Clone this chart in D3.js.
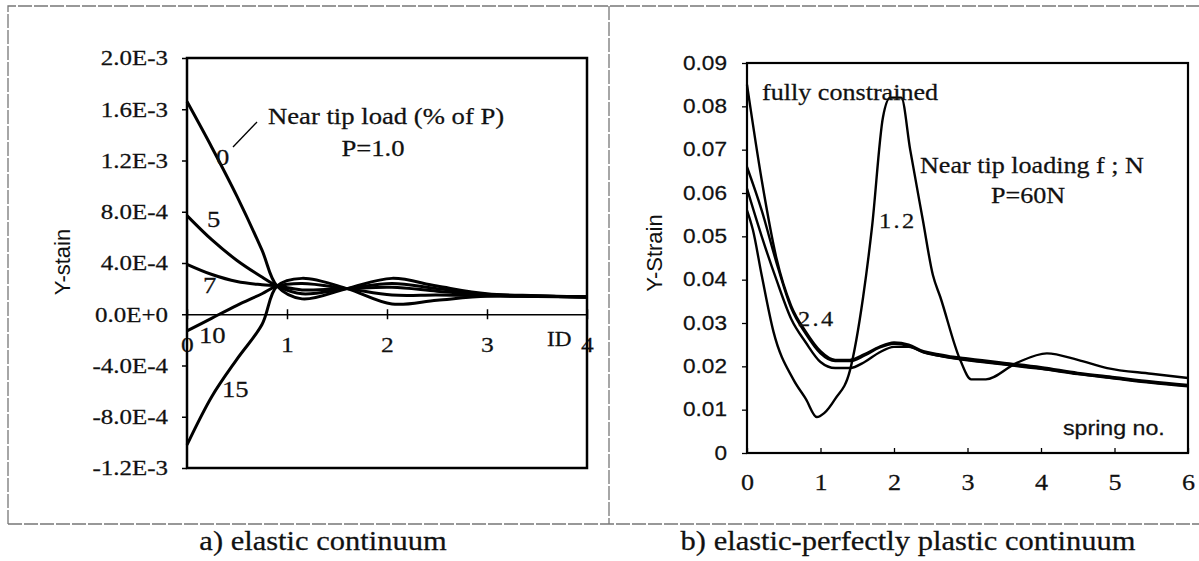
<!DOCTYPE html>
<html>
  <head>
    <meta charset="utf-8">
    <script type="text/javascript" src="https://cdn.jsdelivr.net/npm/d3@7/dist/d3.min.js"></script>
    <style>
      body { margin: 0; background: #fff; }
    </style>
  </head>
  <body>
    <script type="text/javascript">
      // ---- data ----
      // a) elastic continuum, x = ID, y = strain
      var idA = [0, 0.25, 0.5, 0.75, 0.9, 1.15, 1.6, 2.05, 2.5, 3, 3.5, 4];
      var load0  = [16.6e-4, 13.0e-4, 9.2e-4, 5.0e-4, 2.2e-4, 1.2e-4, 2.0e-4, 2.8e-4, 2.2e-4, 1.6e-4, 1.45e-4, 1.35e-4];
      var load5  = [7.7e-4, 5.8e-4, 4.2e-4, 2.9e-4, 2.2e-4, 1.6e-4, 2.0e-4, 2.4e-4, 2.0e-4, 1.55e-4, 1.42e-4, 1.35e-4];
      var load7  = [3.9e-4, 3.1e-4, 2.55e-4, 2.3e-4, 2.2e-4, 1.9e-4, 2.0e-4, 2.1e-4, 1.8e-4, 1.5e-4, 1.4e-4, 1.35e-4];
      var load10 = [-1.3e-4, -0.3e-4, 0.7e-4, 1.6e-4, 2.2e-4, 2.4e-4, 2.0e-4, 1.5e-4, 1.5e-4, 1.45e-4, 1.4e-4, 1.35e-4];
      var load15 = [-10.2e-4, -6.4e-4, -3.5e-4, -0.8e-4, 2.2e-4, 2.8e-4, 2.0e-4, 0.8e-4, 1.1e-4, 1.4e-4, 1.38e-4, 1.35e-4];
      var namesA = ["0", "5", "7", "10", "15"];
      var yTicksA = [2.0e-3, 1.6e-3, 1.2e-3, 8.0e-4, 4.0e-4, 0, -4.0e-4, -8.0e-4, -1.2e-3];
      var yLabelsA = ["2.0E-3", "1.6E-3", "1.2E-3", "8.0E-4", "4.0E-4", "0.0E+0", "-4.0E-4", "-8.0E-4", "-1.2E-3"];
      var xTicksA = [0, 1, 2, 3, 4];

      // b) elastic-perfectly plastic continuum, x = spring no., y = strain
      var springB = [0, 0.2, 0.4, 0.6, 0.8, 1.0, 1.2, 1.4, 1.6, 1.8, 2.0, 2.2, 2.4, 2.6, 2.8, 3.0, 3.2, 3.5, 4.0, 4.5, 5.0, 5.5, 6.0];
      var fullyB = [0.085, 0.063, 0.045, 0.034, 0.028, 0.0235, 0.0215, 0.0215, 0.0228, 0.0245, 0.0255, 0.025, 0.0235, 0.0228, 0.0222, 0.0218, 0.0214, 0.0208, 0.0198, 0.0185, 0.0175, 0.0165, 0.0157];
      var loadB2 = [0.066, 0.056, 0.044, 0.0335, 0.0275, 0.023, 0.0212, 0.0212, 0.0225, 0.0243, 0.0252, 0.0247, 0.0232, 0.0225, 0.0219, 0.0215, 0.0211, 0.0205, 0.0195, 0.0183, 0.0173, 0.0163, 0.0155];
      var load24 = [0.061, 0.050, 0.040, 0.031, 0.0255, 0.021, 0.0196, 0.0196, 0.021, 0.0232, 0.0245, 0.0245, 0.0233, 0.0225, 0.0219, 0.0214, 0.021, 0.0204, 0.0194, 0.0182, 0.0172, 0.0162, 0.0154];
      var spring12 = [0, 0.08, 0.2, 0.36, 0.63, 0.8, 0.95, 1.05, 1.2, 1.4, 1.58, 1.7, 1.85, 1.95, 2.1, 2.22, 2.39, 2.53, 2.63, 2.9, 3.05, 3.25, 3.67, 4.08, 4.5, 4.9, 5.5, 6.0];
      var load12 = [0.056, 0.0515, 0.041, 0.028, 0.017, 0.0125, 0.0083, 0.0092, 0.0125, 0.019, 0.036, 0.052, 0.0775, 0.082, 0.082, 0.070, 0.054, 0.041, 0.036, 0.0215, 0.017, 0.017, 0.0208, 0.023, 0.0215, 0.0196, 0.0183, 0.0173];
      var yTicksB = [0, 0.01, 0.02, 0.03, 0.04, 0.05, 0.06, 0.07, 0.08, 0.09];
      var xTicksB = [0, 1, 2, 3, 4, 5, 6];

      // ---- setup ----
      var width = 1199;
      var height = 561;
      var SX = 1.16;   // the scan is stretched sideways, stretch text to match
      var serif = "'Liberation Serif', 'Times New Roman', serif";
      var sans = "'Liberation Sans', Arial, sans-serif";

      var svg = d3.select("body")
                  .append("svg")
                  .attr("width", width)
                  .attr("height", height);

      function label(x, y, s, size, fam, anchor, sx) {
        return svg.append("text")
                  .attr("transform", "translate(" + x + "," + y + ") scale(" + (sx || SX) + ",1)")
                  .attr("font-size", size)
                  .attr("font-family", fam)
                  .attr("text-anchor", anchor || "start")
                  .attr("fill", "#111")
                  .attr("stroke", "#111")
                  .attr("stroke-width", 0.25)
                  .text(s);
      }

      function stretchTicks(g) {
        g.selectAll("text")
         .attr("x", function() { return (+d3.select(this).attr("x") || 0) / SX; })
         .attr("transform", "scale(" + SX + ",1)")
         .attr("fill", "#111")
         .attr("stroke", "#111")
         .attr("stroke-width", 0.25);
      }

      // scanned page frame
      var frame = svg.append("g")
                     .attr("stroke", "#777")
                     .attr("stroke-width", 1.3)
                     .attr("stroke-dasharray", "14,2")
                     .attr("fill", "none");
      frame.append("path").attr("d", "M8,524 L8,6 L1199,6");
      frame.append("path").attr("d", "M8,524 L1199,524");
      frame.append("path").attr("d", "M609,6 L609,524");

      // ---- panel a ----
      var xA = d3.scaleLinear().domain([0, 4]).range([187, 587]);
      var yA = d3.scaleLinear().domain([-1.2e-3, 2.0e-3]).range([468, 58]);

      var lineA = d3.line()
                    .x(function(d, i) { return xA(idA[i]); })
                    .y(function(d) { return yA(d); })
                    .curve(d3.curveCatmullRom.alpha(0.5));

      [load0, load5, load7, load10, load15].forEach(function(s) {
        svg.append("path")
           .datum(s)
           .attr("d", lineA)
           .attr("fill", "none")
           .attr("stroke", "#000")
           .attr("stroke-width", 3);
      });

      // y axis
      var gyA = svg.append("g")
                   .attr("transform", "translate(" + xA(0) + ",0)")
                   .call(d3.axisLeft(yA)
                           .tickValues(yTicksA)
                           .tickFormat(function(d, i) { return yLabelsA[i]; })
                           .tickSize(5)
                           .tickPadding(14)
                           .tickSizeOuter(0))
                   .attr("font-family", serif)
                   .attr("font-size", 21.5);
      gyA.select(".domain").remove();
      gyA.selectAll("line").attr("stroke-width", 1.5);
      stretchTicks(gyA);

      // x axis through zero
      var gxA = svg.append("g")
                   .attr("transform", "translate(0," + yA(0) + ")")
                   .call(d3.axisBottom(xA)
                           .tickValues(xTicksA)
                           .tickFormat(d3.format("d"))
                           .tickSize(5)
                           .tickPadding(17)
                           .tickSizeOuter(0))
                   .attr("font-family", serif)
                   .attr("font-size", 22);
      gxA.select(".domain").attr("stroke-width", 1.5);
      gxA.selectAll("line").attr("y1", -5).attr("y2", 5).attr("stroke-width", 1.5);
      stretchTicks(gxA);

      svg.append("rect")
         .attr("x", xA(0)).attr("y", yA(2.0e-3))
         .attr("width", xA(4) - xA(0)).attr("height", yA(-1.2e-3) - yA(2.0e-3))
         .attr("fill", "none").attr("stroke", "#000").attr("stroke-width", 2.5);

      // annotations
      label(547, 346, "ID", 20, serif);
      svg.append("line")
         .attr("x1", 233).attr("y1", 147).attr("x2", 257).attr("y2", 122)
         .attr("stroke", "#000").attr("stroke-width", 1.3);
      label(268, 124, "Near tip load (% of P)", 23, serif);
      label(373, 156, "P=1.0", 23, serif, "middle");
      label(216, 165, namesA[0], 23, serif);
      label(207, 227, namesA[1], 23, serif);
      label(203, 293, namesA[2], 23, serif);
      label(199, 343, namesA[3], 23, serif);
      label(222, 397, namesA[4], 23, serif);

      svg.append("text")
         .attr("transform", "translate(70,262) rotate(-90)")
         .attr("text-anchor", "middle")
         .attr("font-family", sans)
         .attr("font-size", 22)
         .attr("fill", "#111")
         .text("Y-stain");

      label(323, 550, "a) elastic continuum", 27, serif, "middle", 1.13);

      // ---- panel b ----
      var xB = d3.scaleLinear().domain([0, 6]).range([747, 1188]);
      var yB = d3.scaleLinear().domain([0, 0.09]).range([453, 63]);

      var lineB = d3.line()
                    .x(function(d, i) { return xB(springB[i]); })
                    .y(function(d) { return yB(d); })
                    .curve(d3.curveMonotoneX);
      var line12 = d3.line()
                     .x(function(d, i) { return xB(spring12[i]); })
                     .y(function(d) { return yB(d); })
                     .curve(d3.curveMonotoneX);

      [fullyB, loadB2, load24].forEach(function(s) {
        svg.append("path")
           .datum(s)
           .attr("d", lineB)
           .attr("fill", "none")
           .attr("stroke", "#000")
           .attr("stroke-width", 2.4);
      });
      svg.append("path")
         .datum(load12)
         .attr("d", line12)
         .attr("fill", "none")
         .attr("stroke", "#000")
         .attr("stroke-width", 2.4);

      var gyB = svg.append("g")
                   .attr("transform", "translate(" + xB(0) + ",0)")
                   .call(d3.axisLeft(yB)
                           .tickValues(yTicksB)
                           .tickFormat(function(d) { return d === 0 ? "0" : d3.format(".2f")(d); })
                           .tickSize(5)
                           .tickPadding(15)
                           .tickSizeOuter(0))
                   .attr("font-family", sans)
                   .attr("font-size", 19.5);
      gyB.select(".domain").remove();
      gyB.selectAll("line").attr("stroke-width", 1.3);
      stretchTicks(gyB);

      var gxB = svg.append("g")
                   .attr("transform", "translate(0," + yB(0) + ")")
                   .call(d3.axisBottom(xB)
                           .tickValues(xTicksB)
                           .tickFormat(d3.format("d"))
                           .tickSizeInner(-5)
                           .tickPadding(21)
                           .tickSizeOuter(0))
                   .attr("font-family", serif)
                   .attr("font-size", 22.5);
      gxB.select(".domain").remove();
      gxB.selectAll("line").attr("stroke-width", 1.3);
      stretchTicks(gxB);

      svg.append("rect")
         .attr("x", xB(0)).attr("y", yB(0.09))
         .attr("width", xB(6) - xB(0)).attr("height", yB(0) - yB(0.09))
         .attr("fill", "none").attr("stroke", "#000").attr("stroke-width", 2.2);

      label(762, 100, "fully constrained", 22.5, serif);
      label(920, 173, "Near tip loading f ; N", 22.5, serif);
      label(1028, 203, "P=60N", 22.5, serif, "middle");
      label(879, 228, "1.2", 21, serif).attr("letter-spacing", 2);
      label(798, 326, "2.4", 21, serif).attr("letter-spacing", 2);
      label(1063, 435, "spring  no.", 20, sans);

      svg.append("text")
         .attr("transform", "translate(662,253) rotate(-90)")
         .attr("text-anchor", "middle")
         .attr("font-family", sans)
         .attr("font-size", 22)
         .attr("fill", "#111")
         .text("Y-Strain");

      label(908, 550, "b) elastic-perfectly plastic continuum", 27, serif, "middle", 1.13);
    </script>
  </body>
</html>
